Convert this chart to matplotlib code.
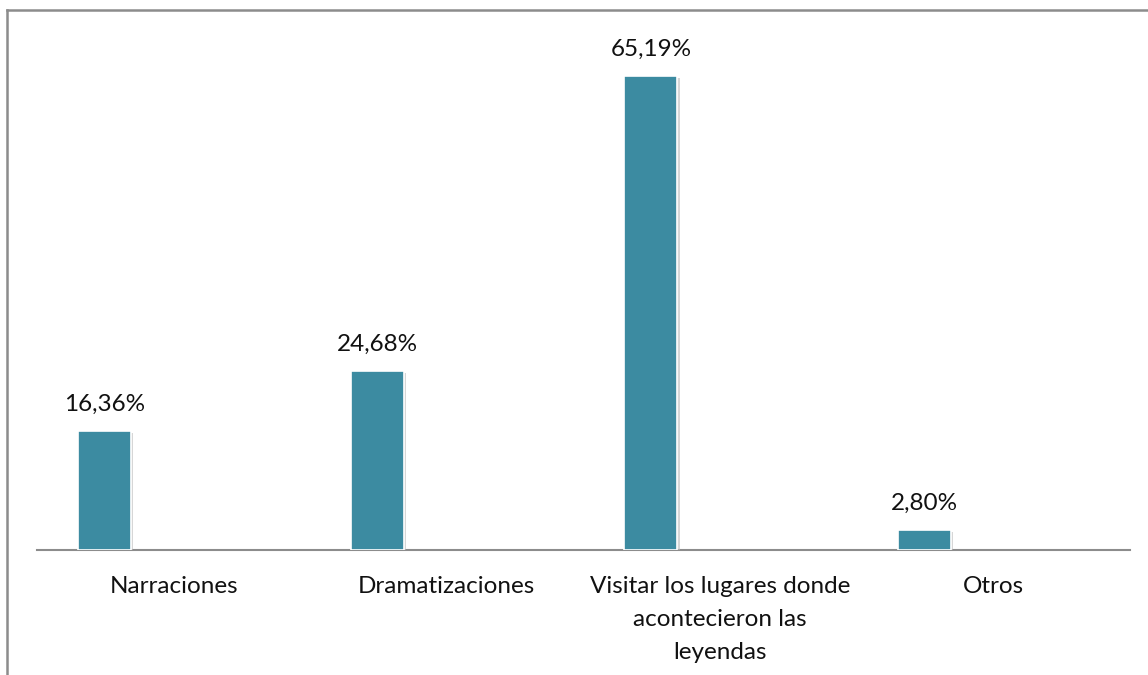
import matplotlib.pyplot as plt
import matplotlib.patheffects as pe
from matplotlib.lines import Line2D

# data
categories = ['Narraciones', 'Dramatizaciones', 'Visitar los lugares donde\nacontecieron las\nleyendas', 'Otros']
values = [16.36, 24.68, 65.19, 2.80]
value_labels = ['16,36%', '24,68%', '65,19%', '2,80%']

plt.rcParams['font.family'] = ['Lato', 'DejaVu Sans']

fig = plt.figure(figsize=(11.48, 6.75), dpi=100)
ax = fig.add_axes([37 / 1148, 1 - 550 / 675, 1093 / 1148, 530 / 675])

x = list(range(len(categories)))
bar_x = [i - 0.253 for i in x]
bars = ax.bar(bar_x, values, width=0.194, color='#3C8BA1', edgecolor='white', linewidth=1.2, zorder=3)
for b in bars:
    b.set_path_effects([pe.SimplePatchShadow(offset=(1.5, -1.5), shadow_rgbFace='#bbbbbb', alpha=0.6), pe.Normal()])

for bx, v, lab in zip(bar_x, values, value_labels):
    ax.annotate(lab, (bx, v), xytext=(0, 19), textcoords='offset points',
                ha='center', va='center', fontsize=17.5, color='#111111')

ax.set_xlim(-0.5, len(categories) - 0.5)
ax.set_ylim(0, 530 / 7.27)
ax.set_xticks(x)
ax.set_xticklabels(categories, fontsize=17.5, color='#111111', linespacing=1.68)
ax.tick_params(axis='x', length=0, pad=19)
ax.set_yticks([])
for s in ['top', 'right', 'left']:
    ax.spines[s].set_visible(False)
ax.spines['bottom'].set_color('#8c8c8c')
ax.spines['bottom'].set_linewidth(1.5)

# outer frame (only top and left visible in the crop)
fig.add_artist(Line2D([7 / 1148, 7 / 1148], [0, 1 - 10 / 675], transform=fig.transFigure, color='#8c8c8c', lw=1.8))
fig.add_artist(Line2D([7 / 1148, 1], [1 - 10 / 675, 1 - 10 / 675], transform=fig.transFigure, color='#8c8c8c', lw=1.8))

fig.savefig('out.png', dpi=100)
